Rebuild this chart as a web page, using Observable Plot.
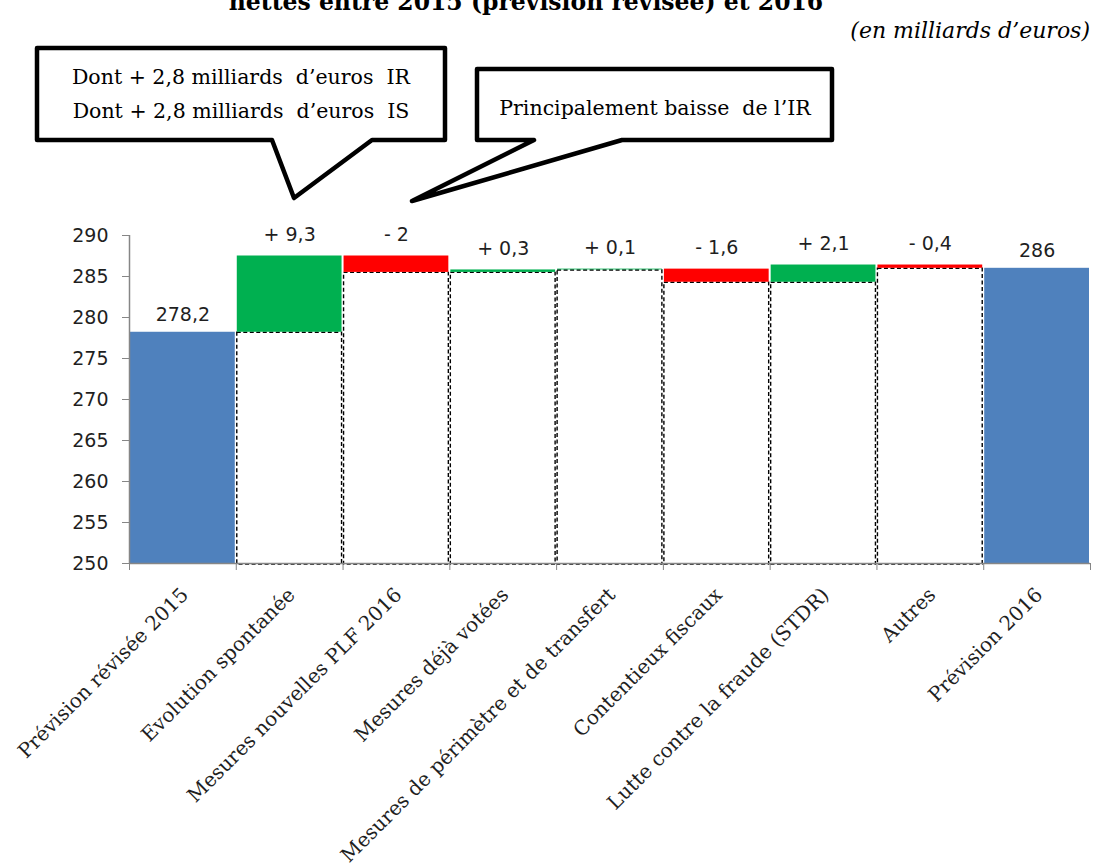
<!DOCTYPE html>
<html>
<head>
<meta charset="utf-8">
<script src="https://cdn.jsdelivr.net/npm/d3@7"></script>
<script src="https://cdn.jsdelivr.net/npm/@observablehq/plot@0.6"></script>
<style>
  html, body { margin: 0; padding: 0; background: #fff; }
  #wrap { position: relative; width: 1097px; height: 866px; overflow: hidden; background: #fff; }
  #wrap > svg { position: absolute; left: 0; top: 0; }
</style>
</head>
<body>
<div id="wrap"></div>
<script>
// ---- data ----
const categories = [
  "Prévision révisée 2015",
  "Evolution spontanée",
  "Mesures nouvelles PLF 2016",
  "Mesures déjà votées",
  "Mesures de périmètre et de transfert",
  "Contentieux fiscaux",
  "Lutte contre la fraude (STDR)",
  "Autres",
  "Prévision 2016"
];
const values = [278.2, 9.3, -2, 0.3, 0.1, -1.6, 2.1, -0.4, 286];
const isTotal = [true, false, false, false, false, false, false, false, true];
const yDomain = [250, 290];
const yTicks = [250, 255, 260, 265, 270, 275, 280, 285, 290];
const titleText = "nettes entre 2015 (prévision révisée) et 2016";
const subtitleText = "(en milliards d’euros)";
const callout1Lines = ["Dont + 2,8 milliards  d’euros  IR", "Dont + 2,8 milliards  d’euros  IS"];
const callout2Lines = ["Principalement baisse  de l’IR"];

const colors = { total: "#4F81BD", up: "#00B050", down: "#FF0000" };
const fmt = v => String(v).replace(".", ",");

let level = 0;
const rows = categories.map((name, i) => {
  const v = values[i];
  if (isTotal[i]) {
    level = v;
    return { i, name, kind: "total", lo: yDomain[0], hi: v, label: fmt(v), color: colors.total };
  }
  const start = level;
  level = +(level + v).toFixed(1);
  return {
    i, name, kind: "delta",
    lo: Math.min(start, level), hi: Math.max(start, level),
    label: (v > 0 ? "+ " : "- ") + fmt(Math.abs(v)),
    color: v > 0 ? colors.up : colors.down
  };
});
const deltas = rows.filter(d => d.kind === "delta");
const totals = rows.filter(d => d.kind === "total");
const boundaries = d3.range(categories.length + 1);
const centers = categories.map((_, i) => i + 0.5);

const sans = "DejaVu Sans, Verdana, sans-serif";
const serif = "DejaVu Serif, serif";
const axisGrey = "#868686";
const ink = "#1f1f1f";

const chart = Plot.plot({
  width: 1097,
  height: 866,
  marginLeft: 129,
  marginRight: 7,
  marginTop: 235,
  marginBottom: 303,
  style: { background: "transparent", fontFamily: sans, overflow: "visible" },
  x: { type: "linear", domain: [0, categories.length] },
  y: { domain: yDomain },
  marks: [
    // invisible base (dashed outline) of floating bars
    Plot.rect(deltas, {
      x1: "i", x2: d => d.i + 1, y1: () => yDomain[0], y2: "lo",
      fill: "white", stroke: "#000", strokeWidth: 1.4, strokeDasharray: "4,2.5",
      insetLeft: 1, insetRight: 1, insetTop: 0.5, insetBottom: -1
    }),
    // visible bars
    Plot.rect(rows, {
      x1: "i", x2: d => d.i + 1, y1: "lo", y2: "hi",
      fill: "color", insetLeft: 1, insetRight: 1
    }),
    // axes lines
    Plot.ruleY([yDomain[0]], { stroke: axisGrey, strokeWidth: 1.5 }),
    Plot.ruleX([0], { y1: yDomain[0], y2: yDomain[1], stroke: axisGrey, strokeWidth: 1.5 }),
    Plot.axisY({
      ticks: yTicks, tickSize: 7, tickPadding: 14, tickFormat: d => String(d),
      stroke: axisGrey, fill: ink, fontSize: 19, fontFamily: sans, label: null
    }),
    Plot.axisX({
      ticks: boundaries, tickSize: 7, tickFormat: () => "", stroke: axisGrey, label: null
    }),
    Plot.axisX({
      ticks: centers, tickSize: 0, tickPadding: 28, tickRotate: -45,
      tickFormat: d => categories[Math.floor(d)],
      fill: ink, fontSize: 20, fontFamily: serif, label: null,
      textAnchor: "end", dx: 2
    }),
    // value labels
    Plot.text(deltas, {
      x: d => d.i + 0.5, y: "hi", text: "label", dy: -15, lineAnchor: "bottom",
      fontSize: 19, fontFamily: sans, fill: ink
    }),
    Plot.text(totals, {
      x: d => d.i + 0.5, y: "hi", text: "label", dy: -11, lineAnchor: "bottom",
      fontSize: 19, fontFamily: sans, fill: ink
    })
  ]
});

const wrap = document.getElementById("wrap");
wrap.appendChild(chart);

// ---- overlay: title, subtitle, callouts ----
const W = 1097, H = 866;
const ov = d3.select(wrap).append("svg")
  .attr("width", W).attr("height", H)
  .attr("viewBox", `0 0 ${W} ${H}`)
  .style("pointer-events", "none");

ov.append("text")
  .attr("x", 526).attr("y", 10)
  .attr("text-anchor", "middle")
  .attr("font-family", serif).attr("font-weight", "bold").attr("font-size", 23.5)
  .attr("fill", "#000")
  .text(titleText);

ov.append("text")
  .attr("x", 1090).attr("y", 38)
  .attr("text-anchor", "end")
  .attr("font-family", serif).attr("font-style", "italic").attr("font-size", 22)
  .attr("fill", "#000")
  .text(subtitleText);

function callout(points, cx, baselines, lines) {
  const g = ov.append("g");
  g.append("path")
    .attr("d", "M" + points.map(p => p.join(",")).join("L") + "Z")
    .attr("fill", "#fff").attr("stroke", "#000").attr("stroke-width", 4.5)
    .attr("stroke-linejoin", "round");
  lines.forEach((t, k) => {
    g.append("text")
      .attr("x", cx).attr("y", baselines[k])
      .attr("text-anchor", "middle")
      .attr("font-family", serif).attr("font-size", 20.5)
      .attr("fill", "#000")
      .style("white-space", "pre")
      .text(t);
  });
}
callout([[37,48],[445,48],[445,140],[372,140],[294,198],[272,140],[37,140]], 241, [84, 118], callout1Lines);
callout([[477,69],[832,69],[832,140],[622,140],[412,201],[534,140],[477,140]], 655, [115], callout2Lines);
</script>
</body>
</html>
